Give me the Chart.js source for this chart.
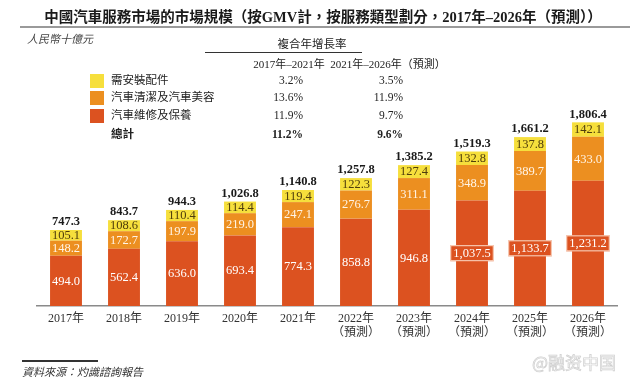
<!DOCTYPE html>
<html><head><meta charset="utf-8">
<script src="https://cdn.jsdelivr.net/npm/chart.js@4.4.1/dist/chart.umd.min.js"></script>
<style>
html,body{margin:0;padding:0;background:#fff;}
#wrap{position:relative;width:640px;height:383px;overflow:hidden;font-family:"Liberation Serif","Noto Sans CJK TC",serif;color:#222;}
canvas{position:absolute;left:0;top:0;}
.t{position:absolute;white-space:nowrap;line-height:1;}
</style></head>
<body>
<div id="wrap">
<canvas id="c" width="640" height="383"></canvas>
<div class="t" id="title" style="left:0;width:646px;text-align:center;top:10px;font-size:14.5px;font-weight:bold;color:#1a1a1a;">中國汽車服務市場的市場規模（按GMV計，按服務類型劃分，2017年–2026年（預測））</div>
<div style="position:absolute;left:20px;top:26px;width:610px;height:2px;background:#9a9a9a;"></div>
<div class="t" style="left:27px;top:34px;font-size:11px;font-style:italic;color:#444;">人民幣十億元</div>
<div class="t" style="left:212px;width:200px;text-align:center;top:39px;font-size:11.5px;color:#222;">複合年增長率</div>
<div style="position:absolute;left:205px;top:52px;width:157px;height:1px;background:#333;"></div>
<div id="table"></div>
<div style="position:absolute;left:22px;top:360px;width:76px;height:1.5px;background:#333;"></div>
<div class="t" style="left:22px;top:367px;font-size:11px;font-style:italic;color:#333;">資料來源：灼識諮詢報告</div>
<div class="t" style="left:532px;top:353px;font-size:17px;color:#fafafa;-webkit-text-stroke:0.7px #cfcfcf;font-family:'Noto Sans CJK SC';">@融资中国</div>
</div>
<script>
const categories = [["2017年"],["2018年"],["2019年"],["2020年"],["2021年"],["2022年","（預測）"],["2023年","（預測）"],["2024年","（預測）"],["2025年","（預測）"],["2026年","（預測）"]];
const repair = [494.0,562.4,636.0,693.4,774.3,858.8,946.8,1037.5,1133.7,1231.2];
const cleaning = [148.2,172.7,197.9,219.0,247.1,276.7,311.1,348.9,389.7,433.0];
const accessories = [105.1,108.6,110.4,114.4,119.4,122.3,127.4,132.8,137.8,142.1];
const totals = [747.3,843.7,944.3,1026.8,1140.8,1257.8,1385.2,1519.3,1661.2,1806.4];
const seriesNames = ["需安裝配件","汽車清潔及汽車美容","汽車維修及保養"];
const cagr1 = ["3.2%","13.6%","11.9%"];
const cagr2 = ["3.5%","11.9%","9.7%"];
const totalName = "總計";
const totalCagr1 = "11.2%";
const totalCagr2 = "9.6%";
const colors = {repair:"#dc5220", cleaning:"#ec8f20", accessories:"#f6df3c"};

// table
(function(){
  const tb = document.getElementById('table');
  let h = '';
  h += `<div class="t" style="left:239px;width:100px;text-align:center;top:59px;font-size:11px;">2017年–2021年</div>`;
  h += `<div class="t" style="left:328px;width:120px;text-align:center;top:59px;font-size:11px;">2021年–2026年（預測）</div>`;
  const sw = [colors.accessories, colors.cleaning, colors.repair];
  const ys = [81, 98, 116];
  for (let i=0;i<3;i++){
    h += `<div style="position:absolute;left:90px;top:${ys[i]-7}px;width:14px;height:14px;background:${sw[i]};"></div>`;
    h += `<div class="t" style="left:111px;top:${ys[i]-6}px;font-size:11.5px;">${seriesNames[i]}</div>`;
    h += `<div class="t" style="left:223px;width:80px;text-align:right;top:${ys[i]-6}px;font-size:11.5px;">${cagr1[i]}</div>`;
    h += `<div class="t" style="left:323px;width:80px;text-align:right;top:${ys[i]-6}px;font-size:11.5px;">${cagr2[i]}</div>`;
  }
  h += `<div class="t" style="left:111px;top:129px;font-size:11.5px;font-weight:bold;">${totalName}</div>`;
  h += `<div class="t" style="left:223px;width:80px;text-align:right;top:129px;font-size:11.5px;font-weight:bold;">${totalCagr1}</div>`;
  h += `<div class="t" style="left:323px;width:80px;text-align:right;top:129px;font-size:11.5px;font-weight:bold;">${totalCagr2}</div>`;
  tb.innerHTML = h;
})();

const FONT = '"Liberation Serif","Noto Sans CJK TC",serif';
const labelPlugin = {
  id:'labels',
  afterDatasetsDraw(chart){
    const ctx = chart.ctx;
    ctx.save();
    ctx.textAlign='center';
    ctx.textBaseline='middle';
    chart.data.datasets.forEach((ds,di)=>{
      const meta = chart.getDatasetMeta(di);
      meta.data.forEach((bar,i)=>{
        const v = ds.data[i];
        const txt = v.toLocaleString('en-US',{minimumFractionDigits:1,maximumFractionDigits:1});
        const cy = (bar.y + bar.base)/2;
        ctx.font = '12.5px ' + FONT;
        if (di===0 && v>=1000){
          const w = ctx.measureText(txt).width + 6;
          ctx.fillStyle = colors.repair;
          ctx.fillRect(bar.x - w/2, cy-8, w, 16);
          ctx.strokeStyle = 'rgba(255,235,220,0.9)';
          ctx.lineWidth = 1;
          ctx.strokeRect(bar.x - w/2+0.5, cy-7.5, w-1, 15);
        }
        ctx.fillStyle = di===2 ? '#4f3d0c' : (di===1 ? '#fff4e6' : '#ffffff');
        ctx.fillText(txt, bar.x, cy+0.5);
        if (di===2){
          ctx.font = 'bold 12.5px ' + FONT;
          ctx.fillStyle = '#1a1a1a';
          const t = totals[i].toLocaleString('en-US',{minimumFractionDigits:1,maximumFractionDigits:1});
          ctx.fillText(t, bar.x, bar.y - 8);
        }
      });
    });
    ctx.restore();
  }
};

new Chart(document.getElementById('c'), {
  type:'bar',
  data:{
    labels: categories,
    datasets:[
      {label:seriesNames[2], data:repair, backgroundColor:colors.repair},
      {label:seriesNames[1], data:cleaning, backgroundColor:colors.cleaning},
      {label:seriesNames[0], data:accessories, backgroundColor:colors.accessories}
    ]
  },
  options:{
    responsive:false, animation:false,
    layout:{padding:{left:37,right:23,top:62,bottom:37}},
    plugins:{legend:{display:false},tooltip:{enabled:false}},
    datasets:{bar:{categoryPercentage:1, barPercentage:0.55, borderWidth:0}},
    scales:{
      x:{stacked:true, grid:{display:false, drawTicks:false}, border:{display:true,color:'#8a8a8a',width:1.5},
         ticks:{padding:6, color:'#333', font:{family:FONT,size:12,lineHeight:1.17}, maxRotation:0, autoSkip:false}},
      y:{stacked:true, display:false, min:0, max:2400}
    }
  },
  plugins:[labelPlugin]
});
</script>
</body></html>
